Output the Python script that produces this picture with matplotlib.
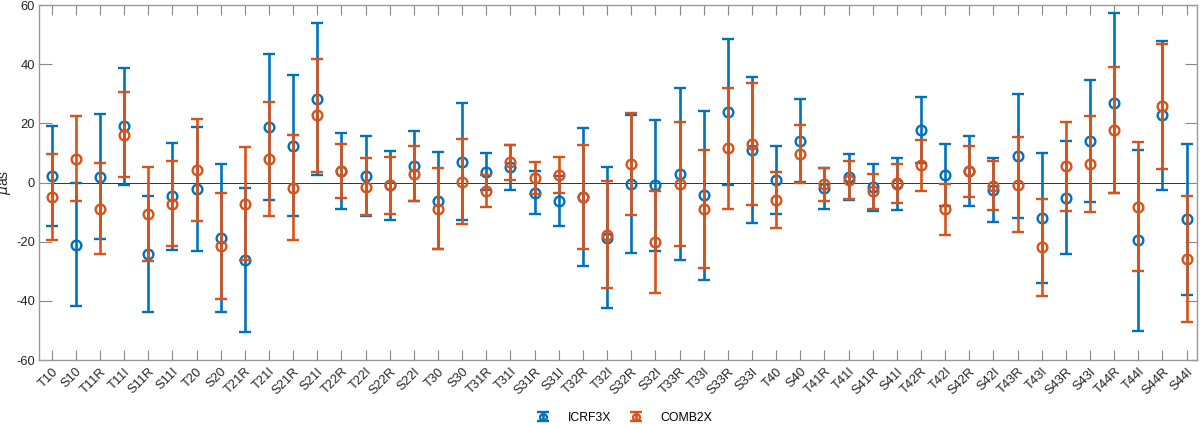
import matplotlib
matplotlib.use('Agg')
import matplotlib.pyplot as plt
from matplotlib.legend_handler import HandlerErrorbar
import numpy as np

plt.rcParams['font.family'] = ['Liberation Sans', 'DejaVu Sans']

categories = ['T10', 'S10', 'T11R', 'T11I', 'S11R', 'S11I', 'T20', 'S20',
              'T21R', 'T21I', 'S21R', 'S21I', 'T22R', 'T22I', 'S22R', 'S22I',
              'T30', 'S30', 'T31R', 'T31I', 'S31R', 'S31I', 'T32R', 'T32I',
              'S32R', 'S32I', 'T33R', 'T33I', 'S33R', 'S33I', 'T40', 'S40',
              'T41R', 'T41I', 'S41R', 'S41I', 'T42R', 'T42I', 'S42R', 'S42I',
              'T43R', 'T43I', 'S43R', 'S43I', 'T44R', 'T44I', 'S44R', 'S44I']

icrf3x_val = [2.2, -21.0, 1.9, 19.0, -24.2, -4.6, -2.2, -18.7,
              -26.3, 18.8, 12.5, 28.2, 4.0, 2.3, -1.0, 5.6,
              -6.1, 7.1, 3.7, 5.2, -3.5, -6.2, -5.0, -18.6,
              -0.4, -1.0, 3.0, -4.3, 23.7, 11.0, 0.8, 14.2,
              -2.0, 1.9, -1.6, -0.35, 17.7, 2.5, 3.9, -2.4,
              9.0, -11.9, -5.1, 14.1, 27.0, -19.6, 22.7, -12.5]
icrf3x_err = [17.0, 20.7, 21.1, 19.7, 19.5, 18.1, 20.8, 25.0,
              24.3, 24.7, 23.7, 25.7, 12.8, 13.5, 11.6, 11.8,
              16.4, 19.8, 6.4, 7.6, 7.3, 8.4, 23.3, 23.8,
              23.3, 22.0, 29.1, 28.5, 24.7, 24.6, 11.4, 13.9,
              7.0, 7.8, 8.0, 8.8, 11.2, 10.6, 11.8, 10.85,
              21.0, 22.0, 19.1, 20.55, 30.4, 30.5, 25.15, 25.5]

comb2x_val = [-4.9, 8.0, -8.8, 16.1, -10.6, -7.1, 4.3, -21.4,
              -7.1, 8.0, -1.8, 22.7, 3.9, -1.4, -1.0, 2.9,
              -8.8, 0.3, -2.8, 6.8, 1.5, 2.5, -4.9, -17.6,
              6.2, -20.1, -0.6, -9.0, 11.6, 13.0, -6.0, 9.6,
              -0.6, 0.8, -3.0, -0.3, 5.75, -9.1, 3.8, -1.1,
              -0.7, -21.9, 5.5, 6.3, 17.7, -8.2, 25.8, -25.7]
comb2x_err = [14.5, 14.4, 15.4, 14.4, 16.0, 14.3, 17.3, 18.0,
              19.1, 19.2, 17.8, 19.2, 9.2, 9.7, 9.6, 9.3,
              13.6, 14.4, 5.35, 5.9, 5.3, 6.1, 17.5, 18.0,
              17.3, 17.2, 21.0, 20.0, 20.4, 20.5, 9.4, 9.9,
              5.5, 6.5, 6.0, 6.5, 8.7, 8.5, 8.7, 8.25,
              16.0, 16.45, 15.0, 16.3, 21.2, 21.8, 21.1, 21.3]

yticks = [-60, -40, -20, 0, 20, 40, 60]

fig = plt.figure(figsize=(12, 4.24), dpi=100)
ax = fig.add_axes([0.0325, 0.1509, 0.965, 0.8373])
x = np.arange(1, len(categories) + 1)

ax.axhline(0, color='#333333', lw=0.7, zorder=1)
ax.errorbar(x, icrf3x_val, yerr=icrf3x_err, fmt='o', color='#0072BD',
            mfc='none', ms=7, mew=1.7, elinewidth=1.9, capsize=4.5,
            capthick=1.9, label='ICRF3X', zorder=2)
ax.errorbar(x, comb2x_val, yerr=comb2x_err, fmt='o', color='#D95319',
            mfc='none', ms=7, mew=1.7, elinewidth=1.9, capsize=4.5,
            capthick=1.9, label='COMB2X', zorder=3)

ax.set_xlim(0.474, 48.43)
ax.set_ylim(-60, 60)
ax.set_xticks(x)
ax.set_xticklabels(categories, rotation=45, ha='right', va='top',
                   rotation_mode='anchor', fontsize=9.3, color='#262626')
ax.set_yticks(yticks)
ax.set_yticklabels([str(v) for v in yticks], fontsize=9.3, color='#262626')
ax.tick_params(axis='x', direction='in', top=True, bottom=True, length=7,
               width=0.8, color='#888888', pad=4)
ax.tick_params(axis='y', direction='in', left=True, right=True, length=9,
               width=0.8, color='#888888', pad=3)
for s in ax.spines.values():
    s.set_color('#999999')
    s.set_linewidth(1.0)
ax.set_ylabel(r'$\mu$as', fontsize=10, color='#262626', labelpad=2)

handles, labels = ax.get_legend_handles_labels()
fig.legend(handles, labels, loc='center',
           bbox_to_anchor=(0.521, 1 - 418 / 424),
           bbox_transform=fig.transFigure, ncol=2, frameon=False,
           fontsize=8.8, handlelength=0.8, handletextpad=1.6,
           columnspacing=1.6, markerscale=0.7,
           handler_map={type(handles[0]): HandlerErrorbar(yerr_size=0.35)})

fig.savefig('out.png', dpi=100)
